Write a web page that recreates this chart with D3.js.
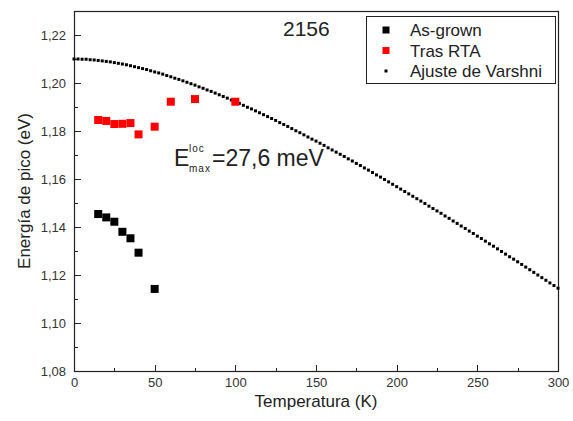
<!DOCTYPE html>
<html lang="es">
<head>
    <meta charset="utf-8">
    <title>2156</title>
    <script src="https://d3js.org/d3.v7.min.js" charset="utf-8"></script>
    <style>
        body { margin: 0; background: #fff; }
        svg { font-family: "Liberation Sans", Arial, sans-serif; }
        .axis path { display: none; }
        .axis line { stroke: #222; shape-rendering: crispEdges; }
        .axis text { font-size: 13px; fill: #333; }
    </style>
</head>
<body>
<script>
    // As-grown
    var asGrownT = [15, 20, 25, 30, 35, 40, 50]
    var asGrownE = [1.1454, 1.1440, 1.1422, 1.1380, 1.1353, 1.1293, 1.1142]

    // Tras RTA
    var rtaT = [15, 20, 25, 30, 35, 40, 50, 60, 75, 100]
    var rtaE = [1.1846, 1.1842, 1.1829, 1.1830, 1.1833, 1.1786, 1.1818, 1.1922, 1.1933, 1.1922]

    // Ajuste de Varshni
    var varshniT = [0, 2.5, 5, 7.5, 10, 12.5, 15, 17.5, 20, 22.5, 25, 27.5, 30, 32.5, 35, 37.5, 40, 42.5, 45, 47.5,
        50, 52.5, 55, 57.5, 60, 62.5, 65, 67.5, 70, 72.5, 75, 77.5, 80, 82.5, 85, 87.5, 90, 92.5, 95, 97.5,
        100, 102.5, 105, 107.5, 110, 112.5, 115, 117.5, 120, 122.5, 125, 127.5, 130, 132.5, 135, 137.5, 140, 142.5, 145, 147.5,
        150, 152.5, 155, 157.5, 160, 162.5, 165, 167.5, 170, 172.5, 175, 177.5, 180, 182.5, 185, 187.5, 190, 192.5, 195, 197.5,
        200, 202.5, 205, 207.5, 210, 212.5, 215, 217.5, 220, 222.5, 225, 227.5, 230, 232.5, 235, 237.5, 240, 242.5, 245, 247.5,
        250, 252.5, 255, 257.5, 260, 262.5, 265, 267.5, 270, 272.5, 275, 277.5, 280, 282.5, 285, 287.5, 290, 292.5, 295, 297.5, 300]
    var varshniE = [1.2100, 1.2100, 1.2099, 1.2099, 1.2097, 1.2096, 1.2094, 1.2092, 1.2090, 1.2088,
        1.2085, 1.2082, 1.2079, 1.2076, 1.2072, 1.2068, 1.2064, 1.2060, 1.2056, 1.2051,
        1.2046, 1.2042, 1.2037, 1.2031, 1.2026, 1.2020, 1.2015, 1.2009, 1.2003, 1.1997,
        1.1991, 1.1984, 1.1978, 1.1971, 1.1965, 1.1958, 1.1951, 1.1944, 1.1937, 1.1929,
        1.1922, 1.1915, 1.1907, 1.1899, 1.1892, 1.1884, 1.1876, 1.1868, 1.1860, 1.1852,
        1.1844, 1.1835, 1.1827, 1.1819, 1.1810, 1.1801, 1.1793, 1.1784, 1.1775, 1.1766,
        1.1758, 1.1749, 1.1740, 1.1730, 1.1721, 1.1712, 1.1703, 1.1694, 1.1684, 1.1675,
        1.1665, 1.1656, 1.1646, 1.1637, 1.1627, 1.1617, 1.1608, 1.1598, 1.1588, 1.1578,
        1.1568, 1.1558, 1.1548, 1.1538, 1.1528, 1.1518, 1.1508, 1.1498, 1.1487, 1.1477,
        1.1467, 1.1457, 1.1446, 1.1436, 1.1425, 1.1415, 1.1404, 1.1394, 1.1383, 1.1373,
        1.1362, 1.1352, 1.1341, 1.1330, 1.1320, 1.1309, 1.1298, 1.1287, 1.1276, 1.1266,
        1.1255, 1.1244, 1.1233, 1.1222, 1.1211, 1.1200, 1.1189, 1.1178, 1.1167, 1.1156, 1.1145]

    var xTicks = [0, 50, 100, 150, 200, 250, 300]
    var xMinor = [25, 75, 125, 175, 225, 275]
    var yTicks = [1.08, 1.10, 1.12, 1.14, 1.16, 1.18, 1.20, 1.22]
    var yMinor = [1.09, 1.11, 1.13, 1.15, 1.17, 1.19, 1.21]

    var legendNames = ["As-grown", "Tras RTA", "Ajuste de Varshni"]

    var w = 573, h = 421
    var pLeft = 74, pRight = 558, pTop = 11, pBottom = 371

    var svg = d3.select("body").append("svg").attr("width", w).attr("height", h)

    var xScale = d3.scaleLinear().domain([0, 300]).range([pLeft, pRight])
    var yScale = d3.scaleLinear().domain([1.08, 1.23]).range([pBottom, pTop])

    var fmt = function (d) { return d3.format(".2f")(d).replace(".", ",") }

    // ejes (ticks hacia dentro)
    svg.append("g").attr("class", "axis")
        .attr("transform", "translate(0," + pBottom + ")")
        .call(d3.axisBottom(xScale).tickValues(xTicks).tickSize(-6).tickPadding(7).tickFormat(d3.format("d")))
    svg.append("g").attr("class", "axis")
        .attr("transform", "translate(0," + pBottom + ")")
        .call(d3.axisBottom(xScale).tickValues(xMinor).tickSize(-3).tickFormat(""))
    svg.append("g").attr("class", "axis")
        .attr("transform", "translate(" + pLeft + ",0)")
        .call(d3.axisLeft(yScale).tickValues(yTicks).tickSize(-7).tickPadding(8).tickFormat(fmt))
    svg.append("g").attr("class", "axis")
        .attr("transform", "translate(" + pLeft + ",0)")
        .call(d3.axisLeft(yScale).tickValues(yMinor).tickSize(-4).tickFormat(""))

    svg.append("rect")
        .attr("x", pLeft + 0.5).attr("y", pTop + 0.5)
        .attr("width", pRight - pLeft).attr("height", pBottom - pTop)
        .attr("fill", "none").attr("stroke", "#222").attr("stroke-width", 1.2)

    // curva de Varshni
    svg.append("g").selectAll("rect").data(varshniT).join("rect")
        .attr("x", function (d) { return xScale(d) - 1.5 })
        .attr("y", function (d, i) { return yScale(varshniE[i]) - 1.5 })
        .attr("width", 3).attr("height", 3).attr("fill", "#000")

    // As-grown
    svg.append("g").selectAll("rect").data(asGrownT).join("rect")
        .attr("x", function (d) { return xScale(d) - 4 })
        .attr("y", function (d, i) { return yScale(asGrownE[i]) - 4 })
        .attr("width", 8).attr("height", 8).attr("fill", "#000")

    // Tras RTA
    svg.append("g").selectAll("rect").data(rtaT).join("rect")
        .attr("x", function (d) { return xScale(d) - 4 })
        .attr("y", function (d, i) { return yScale(rtaE[i]) - 4 })
        .attr("width", 8).attr("height", 8).attr("fill", "#f00")

    // titulos de ejes
    svg.append("text").attr("x", (pLeft + pRight) / 2).attr("y", 407)
        .attr("text-anchor", "middle").attr("font-size", 17).attr("fill", "#222")
        .text("Temperatura (K)")
    svg.append("text")
        .attr("transform", "translate(30," + ((pTop + pBottom) / 2) + ") rotate(-90)")
        .attr("text-anchor", "middle").attr("font-size", 17).attr("fill", "#222")
        .text("Energía de pico (eV)")

    // rotulo de la muestra
    svg.append("text").attr("x", 283).attr("y", 36)
        .attr("font-size", 21).attr("fill", "#222").text("2156")

    // anotacion
    var ann = svg.append("g").attr("fill", "#222")
    ann.append("text").attr("x", 174).attr("y", 166).attr("font-size", 23).text("E")
    ann.append("text").attr("x", 189).attr("y", 152).attr("font-size", 10).attr("letter-spacing", 1).text("loc")
    ann.append("text").attr("x", 189).attr("y", 172).attr("font-size", 10).attr("letter-spacing", 1).text("max")
    ann.append("text").attr("x", 212).attr("y", 166).attr("font-size", 23).text("=27,6 meV")

    // leyenda
    var lg = svg.append("g")
    lg.append("rect").attr("x", 366.5).attr("y", 16.5).attr("width", 189).attr("height", 67)
        .attr("fill", "#fff").attr("stroke", "#222").attr("stroke-width", 1)
    var markSize = [7, 7, 3]
    var markColor = ["#000", "#f00", "#000"]
    legendNames.forEach(function (name, i) {
        var cy = 30 + i * 20.5
        lg.append("rect").attr("x", 386 - markSize[i] / 2).attr("y", cy - markSize[i] / 2)
            .attr("width", markSize[i]).attr("height", markSize[i]).attr("fill", markColor[i])
        lg.append("text").attr("x", 410).attr("y", cy + 6).attr("font-size", 17).attr("fill", "#222").text(name)
    })
</script>
</body>
</html>
